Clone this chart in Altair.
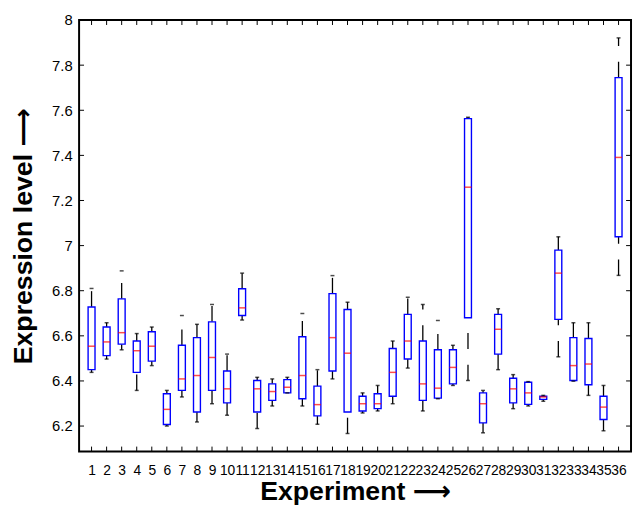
import altair as alt
import pandas as pd

experiments = list(range(1, 37))
whisk_lo = [6.438, 6.497, 6.538, 6.358, 6.468, 6.200, 6.329, 6.218, 6.299, 6.248,
            6.670, 6.189, 6.289, 6.347, 6.289, 6.208, 6.409, 6.167, 6.258, 6.267,
            6.299, 6.457, 6.267, 6.321, 6.380, 6.402, 6.170, 6.450, 6.277, 6.289,
            6.310, 6.507, 6.399, 6.336, 6.179, 6.868]
q1 = [6.450, 6.512, 6.563, 6.438, 6.488, 6.207, 6.358, 6.262, 6.358, 6.303,
      6.690, 6.262, 6.314, 6.347, 6.321, 6.245, 6.444, 6.262, 6.267, 6.277,
      6.332, 6.497, 6.314, 6.324, 6.387, 6.680, 6.214, 6.519, 6.303, 6.296,
      6.318, 6.673, 6.402, 6.383, 6.229, 7.039]
median = [6.554, 6.573, 6.614, 6.534, 6.554, 6.274, 6.409, 6.424, 6.504, 6.365,
          6.724, 6.365, 6.353, 6.372, 6.424, 6.295, 6.592, 6.523, 6.299, 6.299,
          6.438, 6.577, 6.387, 6.368, 6.460, 7.259, 6.299, 6.629, 6.365, 6.347,
          6.329, 6.878, 6.468, 6.475, 6.284, 7.391]
q3 = [6.728, 6.639, 6.764, 6.577, 6.618, 6.343, 6.558, 6.592, 6.662, 6.444,
      6.809, 6.402, 6.387, 6.406, 6.596, 6.377, 6.787, 6.717, 6.332, 6.343,
      6.544, 6.695, 6.577, 6.538, 6.538, 7.563, 6.347, 6.695, 6.412, 6.394,
      6.332, 6.980, 6.592, 6.588, 6.332, 7.745]
whisk_hi = [6.810, 6.658, 6.888, 6.610, 6.639, 6.358, 6.690, 6.651, 6.739, 6.519,
            6.878, 6.416, 6.409, 6.416, 6.699, 6.450, 6.867, 6.749, 6.347, 6.380,
            6.577, 6.771, 6.739, 6.668, 6.558, 7.569, 6.358, 6.720, 6.428, 6.397,
            6.336, 7.039, 6.658, 6.658, 6.380, 7.921]
y_ticks = [6.2, 6.4, 6.6, 6.8, 7.0, 7.2, 7.4, 7.6, 7.8, 8.0]

W, H = 559, 437
FONT = "Liberation Sans"
TFONT = "Liberation Sans, DejaVu Sans"

df = pd.DataFrame({"exp": experiments, "lo": whisk_lo, "q1": q1,
                   "med": median, "q3": q3, "hi": whisk_hi})
xt = pd.DataFrame({"exp": experiments})
yt = pd.DataFrame({"v": y_ticks})

xscale = alt.Scale(domain=[0.5, 36.5], nice=False, zero=False)
yscale = alt.Scale(domain=[6.087, 8.0], nice=False, zero=False)

xaxis = alt.Axis(values=experiments, labelOverlap=False, ticks=False, domain=False,
                 grid=False, title="Experiment  \u27f6", labelFontSize=14, labelPadding=12,
                 labelAngle=0, format="d", titleFontSize=27, titleFontWeight="bold",
                 titlePadding=2, labelFont=FONT, titleFont=TFONT, labelColor="black",
                 titleColor="black", labelFlush=False)
yaxis = alt.Axis(values=y_ticks, format="~g", ticks=False, domain=False, grid=False,
                 title="Expression level  \u27f6", labelFontSize=15, labelPadding=7,
                 titleFontSize=27, titleFontWeight="bold", titlePadding=14,
                 labelFont=FONT, titleFont=TFONT, labelColor="black", titleColor="black",
                 labelFlush=False)


def X(f):
    return alt.X(f"{f}:Q", scale=xscale, axis=xaxis)


def Y(f):
    return alt.Y(f"{f}:Q", scale=yscale, axis=yaxis)


base = alt.Chart(df)

lower_whisk = base.mark_rule(color="black", strokeWidth=1.3, strokeDash=[16, 16]).encode(
    x=X("exp"), y=Y("lo"), y2="q1")
upper_whisk = base.mark_rule(color="black", strokeWidth=1.3, strokeDash=[16, 16]).encode(
    x=X("exp"), y=Y("q3"), y2="hi")
boxes = base.mark_bar(size=7, fill="white", stroke="#0000ff", strokeWidth=1.4).encode(
    x=X("exp"), y=Y("q1"), y2="q3")
medians = base.mark_tick(orient="horizontal", color="#ff0000", size=7, thickness=1.5).encode(
    x=X("exp"), y=Y("med"))
cap_lo = base.mark_tick(orient="horizontal", color="black", size=4, thickness=1.5).encode(
    x=X("exp"), y=Y("lo"))
cap_hi = base.mark_tick(orient="horizontal", color="black", size=4, thickness=1.5).encode(
    x=X("exp"), y=Y("hi"))

tick_b = alt.Chart(xt).mark_rule(color="black", strokeWidth=1).encode(
    x=X("exp"), y=alt.value(H), y2=alt.value(H - 5))
tick_t = alt.Chart(xt).mark_rule(color="black", strokeWidth=1).encode(
    x=X("exp"), y=alt.value(0), y2=alt.value(5))
tick_l = alt.Chart(yt).mark_rule(color="black", strokeWidth=1).encode(
    y=Y("v"), x=alt.value(0), x2=alt.value(5))
tick_r = alt.Chart(yt).mark_rule(color="black", strokeWidth=1).encode(
    y=Y("v"), x=alt.value(W), x2=alt.value(W - 5))

chart = alt.layer(
    lower_whisk, upper_whisk, boxes, medians, cap_lo, cap_hi,
    tick_b, tick_t, tick_l, tick_r
).properties(
    width=W, height=H,
    autosize=alt.AutoSizeParams(type="none"),
    padding={"left": 72, "top": 9, "right": 2, "bottom": 56},
    background="white",
).configure_view(
    stroke="black", strokeWidth=2
)

chart.save("out.html", embed_options={"renderer": "svg", "actions": False})
